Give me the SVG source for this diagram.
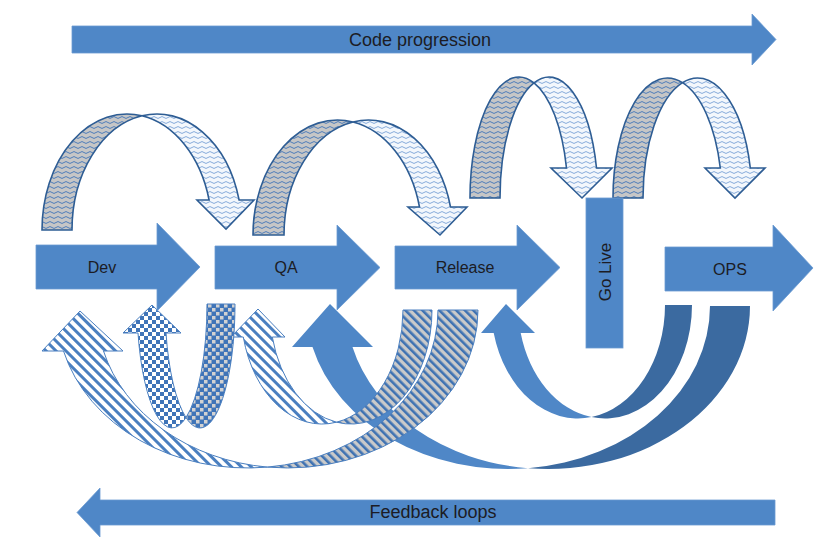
<svg xmlns="http://www.w3.org/2000/svg" width="840" height="551" viewBox="0 0 840 551">
<style>
.node{fill:#4f87c7;stroke:#6b9bd2;stroke-width:0.8}
.lbl{font-family:"Liberation Sans",Arial,sans-serif;font-size:16px;fill:#1c1c24;text-anchor:middle}
.big{font-size:18px}
.arcL{fill:url(#wavG);stroke:#2e5d94;stroke-width:1.6;stroke-linejoin:miter}
.arcR{fill:url(#wavL);stroke:#2e5d94;stroke-width:1.6;stroke-linejoin:miter}
.strp{fill:url(#stripeW);stroke:#4a7fc0;stroke-width:1}
.hatch{fill:url(#stripeG);stroke:#4a7fc0;stroke-width:1}
.chkF{fill:url(#chkL);stroke:#4a7fc0;stroke-width:1}
.chkB{fill:url(#chkD);stroke:#4a7fc0;stroke-width:1}
.solF{fill:#4f87c7}
.solB{fill:#3b6aa0}
</style>
<defs>
<pattern id="wavG" width="8" height="5" patternUnits="userSpaceOnUse">
<rect width="8" height="5" fill="#c6c6c6"/>
<path d="M0,2.5 Q2,0.6 4,2.5 T8,2.5" fill="none" stroke="#3f74b8" stroke-width="0.9"/>
</pattern>
<pattern id="wavL" width="8" height="5" patternUnits="userSpaceOnUse">
<rect width="8" height="5" fill="#f3f7fc"/>
<path d="M0,2.5 Q2,0.6 4,2.5 T8,2.5" fill="none" stroke="#78a2d6" stroke-width="0.9"/>
</pattern>
<pattern id="stripeW" width="7" height="7" patternUnits="userSpaceOnUse" patternTransform="rotate(-45)">
<rect width="7" height="7" fill="#ffffff"/>
<rect width="3" height="7" fill="#4a7fc0"/>
</pattern>
<pattern id="stripeG" width="6" height="6" patternUnits="userSpaceOnUse" patternTransform="rotate(-45)">
<rect width="6" height="6" fill="#cacaca"/>
<rect width="2.6" height="6" fill="#3f72b2"/>
</pattern>
<pattern id="chkL" width="8" height="8" patternUnits="userSpaceOnUse">
<rect width="8" height="8" fill="#ffffff"/>
<rect width="4" height="4" fill="#3f74b8"/>
<rect x="4" y="4" width="4" height="4" fill="#3f74b8"/>
</pattern>
<pattern id="chkD" width="8" height="8" patternUnits="userSpaceOnUse">
<rect width="8" height="8" fill="#3f74b8"/>
<rect width="3.5" height="3.5" fill="#d2d2d2"/>
<rect x="4" y="4" width="3.5" height="3.5" fill="#d2d2d2"/>
</pattern>
</defs>

<g id="code-progression">
<path class="node" d="M72,26 L752,26 L752,14 L776,39.5 L752,65 L752,53 L72,53 Z"/>
<text class="lbl big" x="420" y="46">Code progression</text>
</g>
<g id="feedback-loops">
<path class="node" d="M775,500 L100,500 L100,488 L77,512.5 L100,537 L100,525 L775,525 Z"/>
<text class="lbl big" x="433" y="518">Feedback loops</text>
</g>

<g id="connectors">
<!-- top progression arcs -->
<g id="arc-dev-qa">
<path class="arcL" d="M42,230 A85,116 0 0 1 142,115.8 A85,116 0 0 0 72,230 Z"/>
<path class="arcR" d="M142,115.8 A85,116 0 0 1 239.1,200 L254,200 L226,229 L197,200 L209.1,200 A85,116 0 0 0 142,115.8 Z"/>
</g>
<g id="arc-qa-release">
<path class="arcL" d="M253,235 A84.5,115 0 0 1 353,122 A84.5,115 0 0 0 284,235 Z"/>
<path class="arcR" d="M353,122 A84.5,115 0 0 1 450.5,207 L467,207 L440,235 L408,207 L419.5,207 A84.5,115 0 0 0 353,122 Z"/>
</g>
<g id="arc-release-golive">
<path class="arcL" d="M470,198 A49,121 0 0 1 534,82.8 A49,121 0 0 0 500,198 Z"/>
<path class="arcR" d="M534,82.8 A49,121 0 0 1 596.5,168 L612,168 L582,198 L551,168 L566.5,168 A49,121 0 0 0 534,82.8 Z"/>
</g>
<g id="arc-golive-ops">
<path class="arcL" d="M613,198 A54.5,120 0 0 1 682.5,82.6 A54.5,120 0 0 0 643,198 Z"/>
<path class="arcR" d="M682.5,82.6 A54.5,120 0 0 1 750.3,168 L765,168 L735,198 L705,168 L720.3,168 A54.5,120 0 0 0 682.5,82.6 Z"/>
</g>

<!-- feedback loops -->
<g id="loop-ops-qa">
<path class="solB" d="M710,306 L750,306 A202,163 0 0 1 528,468.2 A202,163 0 0 0 710,306 Z"/>
<path class="solF" d="M528,468.2 A202,163 0 0 1 312.5,347 L292,347 L330,304 L373,347 L352.5,347 A202,163 0 0 0 528,468.2 Z"/>
</g>
<g id="loop-ops-release">
<path class="solB" d="M665,305 L692,305 A87,113.5 0 0 1 591.5,417.1 A87,113.5 0 0 0 665,305 Z"/>
<path class="solF" d="M591.5,417.1 A87,113.5 0 0 1 493.7,333 L481,333 L506,304 L535,333 L520.7,333 A87,113.5 0 0 0 591.5,417.1 Z"/>
</g>
<g id="loop-release-dev">
<path class="hatch" d="M438,310 L478,310 A190.5,158 0 0 1 267.5,467.1 A190.5,158 0 0 0 438,310 Z"/>
<path class="strp" d="M267.5,467.1 A190.5,158 0 0 1 63.5,351 L42,351 L80,311 L123,351 L103.5,351 A190.5,158 0 0 0 267.5,467.1 Z"/>
</g>
<g id="loop-release-qa">
<path class="hatch" d="M403,310 L432,310 A81,114 0 0 1 336.5,422.2 A81,114 0 0 0 403,310 Z"/>
<path class="strp" d="M336.5,422.2 A81,114 0 0 1 243.3,337 L231,337 L258,309 L285,337 L272.3,337 A81,114 0 0 0 336.5,422.2 Z"/>
</g>
<g id="loop-qa-dev">
<path class="chkB" d="M207,304 L235,304 A35,124 0 0 1 186,417.6 A35,124 0 0 0 207,304 Z"/>
<path class="chkF" d="M186,417.6 A35,124 0 0 1 138,333 L123,333 L152,305 L181,333 L166,333 A35,124 0 0 0 186,417.6 Z"/>
</g>
</g>

<g id="dev">
<path class="node" d="M36,245 L157,245 L157,223 L200,267 L157,311 L157,289 L36,289 Z"/>
<text class="lbl" x="102" y="273">Dev</text>
</g>
<g id="qa">
<path class="node" d="M215,246 L337,246 L337,225 L380,267.5 L337,310 L337,289 L215,289 Z"/>
<text class="lbl" x="286" y="273">QA</text>
</g>
<g id="release">
<path class="node" d="M395,246 L517,246 L517,225 L560,267.5 L517,310 L517,289 L395,289 Z"/>
<text class="lbl" x="465" y="273">Release</text>
</g>
<g id="golive">
<rect class="node" x="586" y="198" width="37" height="150"/>
<text class="lbl" x="0" y="0" transform="translate(610.5,272) rotate(-90)" style="font-size:17px">Go Live</text>
</g>
<g id="ops">
<path class="node" d="M665,247 L773,247 L773,225 L813,268 L773,311 L773,291 L665,291 Z"/>
<text class="lbl" x="730" y="275">OPS</text>
</g>
</svg>
